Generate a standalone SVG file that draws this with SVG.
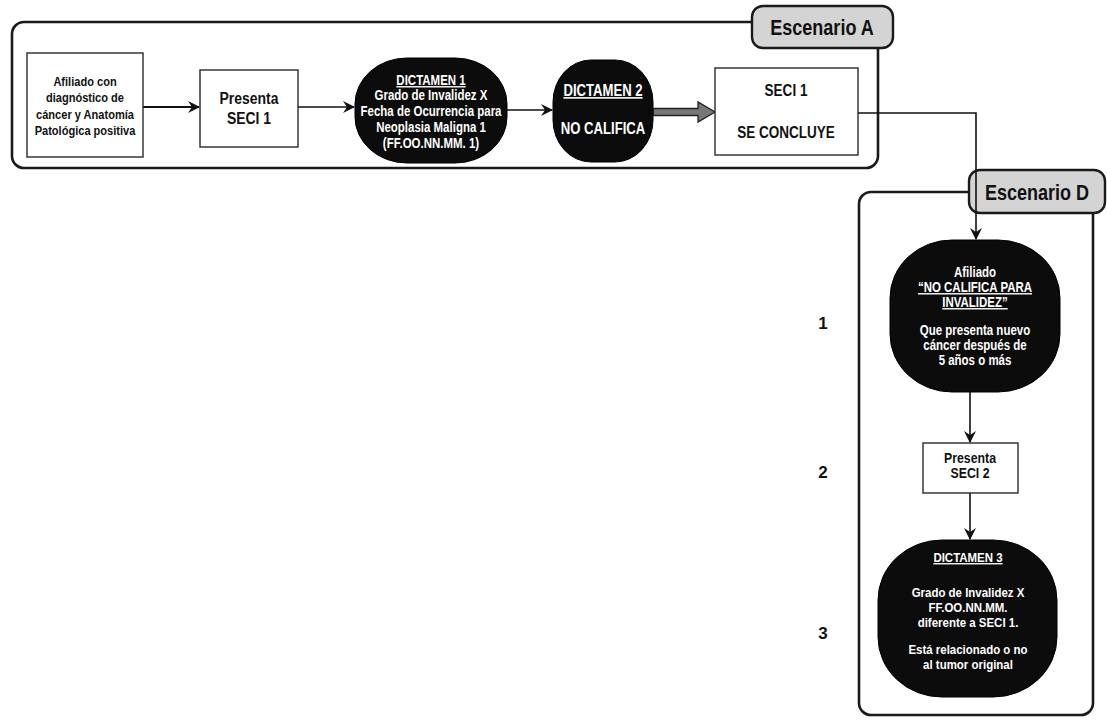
<svg xmlns="http://www.w3.org/2000/svg" width="1107" height="720" viewBox="0 0 1107 720">
<defs>
<marker id="ah" viewBox="0 0 12 12" refX="11" refY="6" markerWidth="12" markerHeight="12" markerUnits="userSpaceOnUse" orient="auto">
<path d="M0,0 L12,6 L0,12 L4,6 Z" fill="#111"/>
</marker>
<style>
.cont{fill:none;stroke:#1a1a1a;stroke-width:2.6}
.lab{fill:#d4d4d4;stroke:#1a1a1a;stroke-width:2.4}
.labt{font-family:"Liberation Sans",Arial,sans-serif;font-weight:bold;font-size:22px;fill:#111;text-anchor:middle}
.box{fill:#fff;stroke:#2a2a2a;stroke-width:1.4}
.blk{fill:#0c0c0c;stroke:#000;stroke-width:1}
.t{font-family:"Liberation Sans",Arial,sans-serif;font-weight:bold;text-anchor:middle}
.dk{fill:#111}
.wt{fill:#fff}
.u{text-decoration:underline}
.ln{fill:none;stroke:#111;stroke-width:1.6}
.num{font-family:"Liberation Sans",Arial,sans-serif;font-weight:bold;font-size:17px;fill:#111;text-anchor:middle}
</style>
</defs>
<rect width="1107" height="720" fill="#fff"/>

<g id="escenarioA">
<rect class="cont" x="12" y="22" width="866" height="146" rx="12"/>
<rect class="lab" x="752" y="6" width="141" height="42" rx="11"/>
<text class="labt" transform="translate(822,0) scale(0.82,1)" x="0" y="35">Escenario A</text>
</g>

<g id="escenarioD">
<rect class="cont" x="859" y="192" width="234" height="523" rx="12"/>
<rect class="lab" x="969" y="170" width="136" height="43" rx="11"/>
<text class="labt" transform="translate(1037,0) scale(0.82,1)" x="0" y="200">Escenario D</text>
</g>

<g id="connectors">
<line class="ln" x1="143" y1="107" x2="199" y2="107" marker-end="url(#ah)" style="stroke-width:2.2"/>
<line class="ln" x1="298" y1="107" x2="354" y2="107" marker-end="url(#ah)"/>
<line class="ln" x1="507" y1="110" x2="552" y2="110" marker-end="url(#ah)"/>
<polygon points="653,108.5 698,108.5 698,102 715,112 698,122 698,115.5 653,115.5" fill="#777" stroke="#222" stroke-width="1.3"/>
<polyline class="ln" points="858,113 976,113 976,239" marker-end="url(#ah)"/>
<line class="ln" x1="970" y1="392" x2="970" y2="442" marker-end="url(#ah)"/>
<line class="ln" x1="970" y1="493" x2="970" y2="539" marker-end="url(#ah)"/>
</g>

<g id="n_afiliado">
<rect class="box" x="27" y="53" width="116" height="104"/>
<text class="t dk" font-size="13.5" transform="translate(85,0) scale(0.82,1)"><tspan x="0" y="86">Afiliado con</tspan><tspan x="0" y="102">diagnóstico de</tspan><tspan x="0" y="119">cáncer y Anatomía</tspan><tspan x="0" y="135">Patológica positiva</tspan></text>
</g>

<g id="n_presenta1">
<rect class="box" x="200" y="70" width="98" height="77"/>
<text class="t dk" font-size="17" transform="translate(249,0) scale(0.82,1)"><tspan x="0" y="104">Presenta</tspan><tspan x="0" y="124">SECI 1</tspan></text>
</g>

<g id="n_dictamen1">
<rect class="blk" x="355" y="58" width="152" height="105" rx="52" ry="46"/>
<text class="t wt" font-size="14" transform="translate(431,0) scale(0.82,1)"><tspan class="u" x="0" y="85">DICTAMEN 1</tspan><tspan x="0" y="100">Grado de Invalidez X</tspan><tspan x="0" y="116">Fecha de Ocurrencia para</tspan><tspan x="0" y="132">Neoplasia Maligna 1</tspan><tspan x="0" y="148">(FF.OO.NN.MM. 1)</tspan></text>
</g>

<g id="n_dictamen2">
<rect class="blk" x="553" y="60" width="100" height="102" rx="38" ry="42"/>
<text class="t wt" font-size="16" transform="translate(603,0) scale(0.82,1)"><tspan class="u" x="0" y="96">DICTAMEN 2</tspan><tspan x="0" y="134">NO CALIFICA</tspan></text>
</g>

<g id="n_seci1">
<rect class="box" x="715" y="68" width="143" height="87"/>
<text class="t dk" font-size="16.5" transform="translate(786,0) scale(0.82,1)"><tspan x="0" y="96">SECI 1</tspan><tspan x="0" y="138">SE CONCLUYE</tspan></text>
</g>

<g id="n_nocalifica">
<rect class="blk" x="890" y="240" width="170" height="152" rx="62" ry="58"/>
<text class="t wt" font-size="14" transform="translate(975,0) scale(0.82,1)"><tspan x="0" y="277">Afiliado</tspan><tspan class="u" x="0" y="292">“NO CALIFICA PARA</tspan><tspan class="u" x="0" y="307">INVALIDEZ”</tspan><tspan x="0" y="335">Que presenta nuevo</tspan><tspan x="0" y="350">cáncer después de</tspan><tspan x="0" y="365">5 años o más</tspan></text>
</g>

<g id="n_presenta2">
<rect class="box" x="923" y="443" width="95" height="50"/>
<text class="t dk" font-size="15" transform="translate(970,0) scale(0.82,1)"><tspan x="0" y="463">Presenta</tspan><tspan x="0" y="478">SECI 2</tspan></text>
</g>

<g id="n_dictamen3">
<rect class="blk" x="878" y="540" width="179" height="157" rx="64" ry="60"/>
<text class="t wt" font-size="13.5" transform="translate(968,0) scale(0.85,1)"><tspan class="u" x="0" y="562">DICTAMEN 3</tspan><tspan x="0" y="597">Grado de Invalidez X</tspan><tspan x="0" y="612">FF.OO.NN.MM.</tspan><tspan x="0" y="627">diferente a SECI 1.</tspan><tspan x="0" y="654">Está relacionado o no</tspan><tspan x="0" y="669">al tumor original</tspan></text>
</g>

<g id="numbers">
<text class="num" x="823" y="329">1</text>
<text class="num" x="823" y="478">2</text>
<text class="num" x="823" y="639">3</text>
</g>
</svg>
